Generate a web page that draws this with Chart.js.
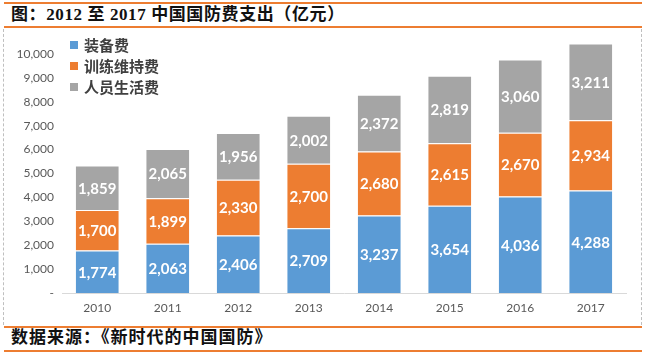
<!DOCTYPE html>
<html><head><meta charset="utf-8">
<script src="https://cdn.jsdelivr.net/npm/chart.js@4/dist/chart.umd.min.js"></script>
<style>
html,body{margin:0;padding:0;background:#fff;}
#wrap{position:relative;width:646px;height:355px;overflow:hidden;}
.hline{position:absolute;left:4px;width:638px;height:2px;background:#ED7D31;}
#title{position:absolute;left:11px;top:5px;font:bold 17px "Liberation Serif","Noto Sans CJK SC",serif;color:#111;line-height:20px;white-space:nowrap;letter-spacing:0.6px;}
#src{position:absolute;left:11px;top:328px;font:bold 17px "Liberation Serif","Noto Sans CJK SC",serif;color:#111;line-height:20px;white-space:nowrap;letter-spacing:1px;}
#box{position:absolute;left:3px;top:29px;width:637px;height:296px;border-left:1px dashed #bfbfbf;border-right:1px dashed #bfbfbf;}
#cv{position:absolute;left:4px;top:28px;}
</style></head>
<body><div id="wrap">
<div class="hline" style="top:2px"></div>
<div id="title">图：2012 至 2017 中国国防费支出（亿元）</div>
<div class="hline" style="top:26px"></div>
<div id="box"></div>
<canvas id="cv" width="636" height="292" style="width:636px;height:292px"></canvas>
<div class="hline" style="top:326px"></div>
<div id="src">数据来源：《新时代的中国国防》</div>
<div class="hline" style="top:350px"></div>
</div>
<script>
const categories = ['2010','2011','2012','2013','2014','2015','2016','2017'];
const seriesNames = ['装备费','训练维持费','人员生活费'];
const equipment = [1774,2063,2406,2709,3237,3654,4036,4288];
const training = [1700,1899,2330,2700,2680,2615,2670,2934];
const personnel = [1859,2065,1956,2002,2372,2819,3060,3211];
const colors = ['#5B9BD5','#ED7D31','#A5A5A5'];
const yTicks = [0,1000,2000,3000,4000,5000,6000,7000,8000,9000,10000];

const fmt = v => v === 0 ? '-' : v.toLocaleString('en-US');

const labelPlugin = {
  id:'segLabels',
  afterDatasetsDraw(chart){
    const ctx = chart.ctx;
    ctx.save();
    ctx.fillStyle = '#fff';
    ctx.font = 'bold 15px Lato, "Open Sans", sans-serif';
    ctx.textAlign = 'center';
    ctx.textBaseline = 'middle';
    chart.data.datasets.forEach((ds, i) => {
      const meta = chart.getDatasetMeta(i);
      meta.data.forEach((bar, j) => {
        const y = (bar.y + bar.base) / 2;
        ctx.fillText(fmt(ds.data[j]), bar.x, y + 1);
      });
    });
    ctx.restore();
  }
};

const legendPlugin = {
  id:'customLegend',
  afterDraw(chart){
    const ctx = chart.ctx;
    ctx.save();
    ctx.font = 'bold 15px "Noto Sans CJK SC", sans-serif';
    ctx.textBaseline = 'middle';
    ctx.textAlign = 'left';
    const x0 = 66, y0 = 17, dy = 21;
    chart.data.datasets.forEach((ds, i) => {
      const y = y0 + i*dy;
      ctx.fillStyle = ds.backgroundColor;
      ctx.fillRect(x0, y-4, 8, 8);
      ctx.fillStyle = '#404040';
      ctx.fillText(ds.label, x0 + 14, y);
    });
    ctx.restore();
  }
};

new Chart(document.getElementById('cv'), {
  type:'bar',
  data:{
    labels: categories,
    datasets:[
      {label:seriesNames[0], data:equipment, backgroundColor:colors[0]},
      {label:seriesNames[1], data:training, backgroundColor:colors[1]},
      {label:seriesNames[2], data:personnel, backgroundColor:colors[2]}
    ].map(d => Object.assign(d, {borderColor:'#fff', borderWidth:{top:1,left:0,right:0,bottom:0}, borderSkipped:false, categoryPercentage:1, barPercentage:0.61}))
  },
  options:{
    responsive:false,
    animation:false,
    events:[],
    layout:{padding:{top:1,right:14,left:0,bottom:0}},
    plugins:{legend:{display:false}, tooltip:{enabled:false}},
    scales:{
      x:{
        stacked:true,
        grid:{display:false, drawTicks:false},
        border:{display:true, color:'#d9d9d9', width:1},
        ticks:{color:'#595959', font:{family:'Lato, "Open Sans", sans-serif', size:12}, padding:8},
        afterFit(s){ s.height = 27; }
      },
      y:{
        stacked:true,
        min:0, max:10450,
        grid:{display:false, drawTicks:false},
        border:{display:false},
        afterBuildTicks(s){ s.ticks = yTicks.map(v => ({value:v})); },
        ticks:{color:'#595959', font:{family:'Lato, "Open Sans", sans-serif', size:12}, padding:8, callback:v => fmt(v)},
        afterFit(s){ s.width = 58; }
      }
    }
  },
  plugins:[labelPlugin, legendPlugin]
});
</script>
</body></html>
